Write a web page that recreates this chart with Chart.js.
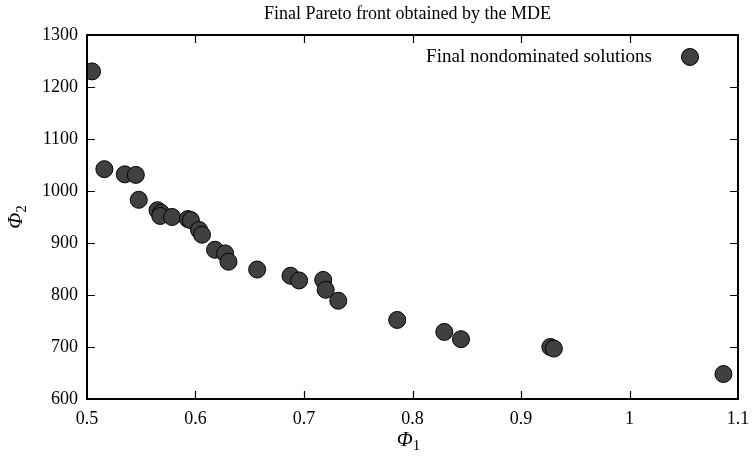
<!DOCTYPE html>
<html>
<head>
<meta charset="utf-8">
<script src="https://cdn.jsdelivr.net/npm/chart.js@4"></script>
<style>
  html, body { margin: 0; padding: 0; background: #fff; }
  #wrap { width: 752px; height: 456px; }
</style>
</head>
<body>
<div id="wrap"><canvas id="paretoChart" width="752" height="456"></canvas></div>
<script>
// objective values
const phi1 = [0.5046, 0.516, 0.5348, 0.545, 0.5477, 0.565, 0.5683, 0.5675, 0.5784, 0.593,
    0.5957, 0.6033, 0.606, 0.618, 0.6273, 0.6304, 0.6568, 0.6876, 0.6955, 0.7177,
    0.72, 0.7316, 0.7859, 0.8293, 0.8447, 0.927, 0.9303, 1.0866];
const phi2 = [1230, 1042, 1032, 1031, 983, 963, 958, 952, 950, 946,
    944, 925, 916, 887, 880, 864, 849, 837, 828, 829,
    810, 789, 752, 729, 715, 700, 697, 648];

const xTicks = [0.5, 0.6, 0.7, 0.8, 0.9, 1.0, 1.1];
const xTickLabels = ['0.5', '0.6', '0.7', '0.8', '0.9', '1', '1.1'];
const yTicks = [600, 700, 800, 900, 1000, 1100, 1200, 1300];
const yTickLabels = ['600', '700', '800', '900', '1000', '1100', '1200', '1300'];

const titleText = 'Final Pareto front obtained by the MDE';
const seriesLabel = 'Final nondominated solutions';

const serif = "'Liberation Serif', 'DejaVu Serif', serif";
const markerFill = '#404040';

const points = phi1.map((x, i) => ({ x: x, y: phi2[i] }));

// frame, inward ticks, title, axis titles and the in-plot key
const decorations = {
    id: 'decorations',
    afterDraw(chart) {
        const c = chart.ctx;
        const a = chart.chartArea;
        const xs = chart.scales.x;
        const ys = chart.scales.y;
        const tick = 8;
        c.save();
        c.strokeStyle = '#000';
        c.lineWidth = 1.2;
        c.beginPath();
        xTicks.forEach(v => {
            const px = Math.round(xs.getPixelForValue(v)) + 0.5;
            if (px < a.left + 2 || px > a.right - 2) return;
            c.moveTo(px, a.bottom); c.lineTo(px, a.bottom - tick);
            c.moveTo(px, a.top); c.lineTo(px, a.top + tick);
        });
        yTicks.forEach(v => {
            const py = Math.round(ys.getPixelForValue(v)) + 0.5;
            if (py < a.top + 2 || py > a.bottom - 2) return;
            c.moveTo(a.left, py); c.lineTo(a.left + tick, py);
            c.moveTo(a.right, py); c.lineTo(a.right - tick, py);
        });
        c.stroke();

        c.lineWidth = 2;
        c.strokeRect(a.left, a.top, a.right - a.left, a.bottom - a.top);

        // title
        c.fillStyle = '#000';
        c.font = '18px ' + serif;
        c.textAlign = 'center';
        c.textBaseline = 'alphabetic';
        const cx = (a.left + a.right) / 2;
        c.fillText(titleText, cx - 5, 19);

        // x axis title: Φ with subscript 1
        drawPhi(c, cx - 4, 446, '1');

        // y axis title, rotated
        c.save();
        c.translate(22, (a.top + a.bottom) / 2);
        c.rotate(-Math.PI / 2);
        drawPhi(c, 0, 0, '2');
        c.restore();

        // key inside the plot, top right
        const keyY = a.top + 22;
        c.font = '19px ' + serif;
        c.textAlign = 'right';
        c.textBaseline = 'middle';
        c.fillText(seriesLabel, a.right - 86, keyY);
        c.beginPath();
        c.arc(a.right - 48, keyY, 8.5, 0, Math.PI * 2);
        c.fillStyle = markerFill;
        c.fill();
        c.lineWidth = 1;
        c.strokeStyle = '#000';
        c.stroke();
        c.restore();
    }
};

function drawPhi(c, x, y, sub) {
    c.font = 'italic 21px ' + serif;
    const w1 = c.measureText('Φ').width;
    c.font = '15px ' + serif;
    const w2 = c.measureText(sub).width;
    const left = x - (w1 + w2) / 2;
    c.textAlign = 'left';
    c.textBaseline = 'alphabetic';
    c.fillStyle = '#000';
    c.font = 'italic 21px ' + serif;
    c.fillText('Φ', left, y);
    c.font = '15px ' + serif;
    c.fillText(sub, left + w1, y + 4);
}

new Chart(document.getElementById('paretoChart'), {
    type: 'scatter',
    data: {
        datasets: [{
            label: seriesLabel,
            data: points,
            pointRadius: 8.5,
            pointHoverRadius: 8.5,
            pointBackgroundColor: markerFill,
            pointBorderColor: '#000',
            pointBorderWidth: 1
        }]
    },
    options: {
        responsive: false,
        animation: false,
        events: [],
        layout: { padding: { top: 35, right: 14, left: 0, bottom: 0 } },
        plugins: {
            legend: { display: false },
            title: { display: false },
            tooltip: { enabled: false }
        },
        scales: {
            x: {
                type: 'linear',
                min: 0.5,
                max: 1.1,
                grid: { display: false, drawTicks: false },
                border: { display: false },
                afterBuildTicks: scale => { scale.ticks = xTicks.map(v => ({ value: v })); },
                afterFit: scale => {
                    scale.height = 57;
                    scale.paddingLeft = 0;
                    scale.paddingRight = 0;
                },
                ticks: {
                    padding: 9,
                    color: '#000',
                    font: { family: serif, size: 18 },
                    maxRotation: 0,
                    callback: (v, i) => xTickLabels[i]
                }
            },
            y: {
                type: 'linear',
                min: 600,
                max: 1300,
                grid: { display: false, drawTicks: false },
                border: { display: false },
                afterBuildTicks: scale => { scale.ticks = yTicks.map(v => ({ value: v })); },
                afterFit: scale => {
                    scale.width = 87;
                    scale.paddingTop = 0;
                    scale.paddingBottom = 0;
                },
                ticks: {
                    padding: 9,
                    color: '#000',
                    font: { family: serif, size: 18 },
                    callback: (v, i) => yTickLabels[i]
                }
            }
        }
    },
    plugins: [decorations]
});
</script>
</body>
</html>
